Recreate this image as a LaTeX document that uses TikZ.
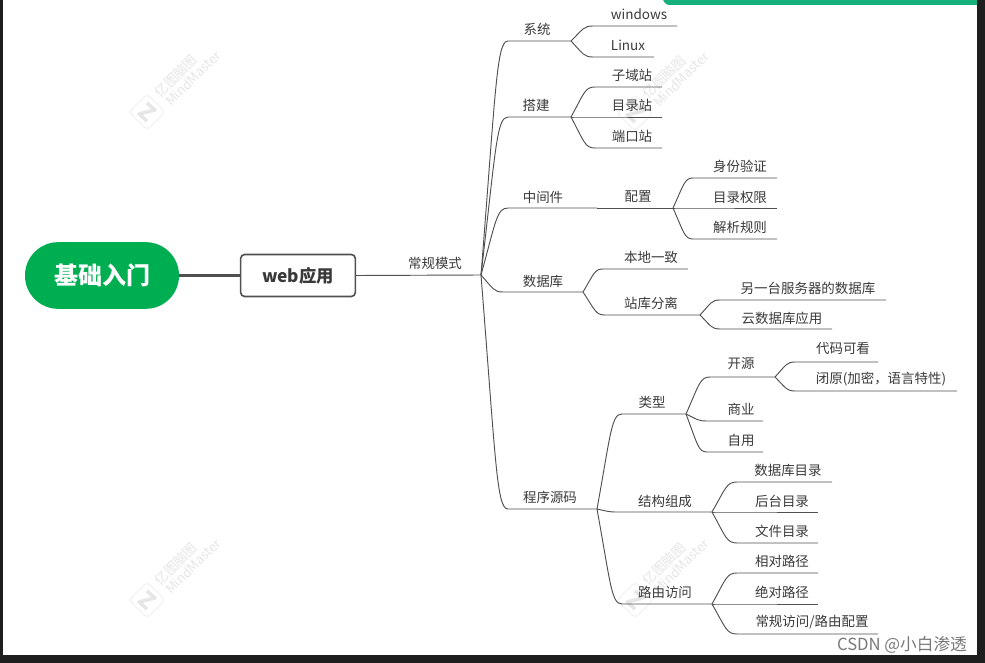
\documentclass[tikz,border=0pt]{standalone}
\usepackage{fontspec}
\setmainfont{Noto Sans CJK SC}
\usetikzlibrary{calc}
\definecolor{bgdark}{HTML}{1E1E1E}
\definecolor{rootgreen}{HTML}{00AE52}
\definecolor{topgreen}{HTML}{16B07A}
\definecolor{linegray}{HTML}{505050}
\definecolor{textgray}{HTML}{3A3A3A}
\definecolor{wmgray}{HTML}{E6E6E6}
\tikzset{
  link/.style={draw=linegray,line width=0.7pt},
  topic/.style={text=textgray,font=\fontsize{10.1pt}{12pt}\selectfont,inner sep=0pt},
  wmtext/.style={text=wmgray,inner sep=0pt,rotate=45},
}
% name, parent, x1, x2, y, text x, text y, text
\newcommand{\tpc}[8]{%
  \coordinate (#1-s) at (#3,#5);
  \coordinate (#1-e) at (#4,#5);
  \node[topic] (#1) at (#6,#7) {#8};
  \draw[link] let \p1=(#2-e), \p2=(#1-s) in
    (\p1) .. controls ({\x1+0.55*(\x2-\x1)},{\y1+0.8*(\y2-\y1)}) and ({\x1+0.58*(\x2-\x1)},\y2) .. (\p2) -- (#1-e);
}
\newcommand{\wmk}[2]{%
  \begin{scope}[shift={(#1,#2)}]
    \draw[wmgray!60,line width=0.7pt,rounded corners=3pt] (-18,0) -- (0,-18) -- (18,0) -- (0,18) -- cycle;
    \draw[wmgray,line width=2.6pt,line join=round] (0,9) -- (-8,2) -- (8,-2) -- (0,-9);
    \node[wmtext,font=\fontsize{10pt}{12pt}\selectfont] at (29,-36) {亿图脑图};
    \node[wmtext,font=\fontsize{9.8pt}{12pt}\selectfont] at (46,-34) {MindMaster};
  \end{scope}
}
\begin{document}
\begin{tikzpicture}[x=0.75pt,y=-0.75pt]
\useasboundingbox (0,0) rectangle (985,663);
\fill[bgdark] (0,0) rectangle (985,663);
\fill[white] (3,0) rectangle (977,655);
\fill[topgreen,rounded corners=5pt] (663,-8) rectangle (995,5);
\fill[bgdark] (977,-10) rectangle (985,10);
\fill[bgdark] (0,-10) rectangle (985,0);
\wmk{147}{112}
\wmk{635}{113}
\wmk{147}{600}
\wmk{635}{600}
% central
\node[fill=rootgreen,text=white,rounded corners=24.9pt,minimum width=115.5pt,minimum height=50pt,inner sep=0pt,font=\fontsize{18pt}{20pt}\selectfont\bfseries] (root) at (102,275.5) {基础入门};
\node[draw=linegray,fill=white,line width=1.2pt,rounded corners=3pt,minimum width=86pt,minimum height=31.5pt,inner sep=0pt,text=textgray,font=\fontsize{13pt}{15pt}\selectfont\bfseries] (web) at (298,275.5) {web应用};
\draw[linegray,line width=2.6pt] (root.east) -- (web.west);
\coordinate (mode-e) at (481,275);
\node[topic] (mode) at (435,263) {常规模式};
\draw[link] (web.east) -- (mode-e);
% level 1
\tpc{sys}{mode}{508}{571}{41}{537}{29}{系统}
\tpc{build}{mode}{508}{571}{117}{536}{105}{搭建}
\tpc{mid}{mode}{508}{597}{208}{543}{197}{中间件}
\tpc{db}{mode}{503}{583}{292}{543}{281}{数据库}
\tpc{src}{mode}{508}{597}{509}{550}{497}{程序源码}
% system
\tpc{win}{sys}{593}{677}{26}{639}{14}{windows}
\tpc{linux}{sys}{593}{654}{57}{628}{45}{Linux}
% build
\tpc{subd}{build}{595}{662}{87}{632}{75}{子域站}
\tpc{dirs}{build}{595}{662}{117}{632}{105}{目录站}
\tpc{port}{build}{595}{662}{148}{632}{136}{端口站}
% middleware
\tpc{conf}{mid}{597}{673}{208}{638}{197}{配置}
\tpc{auth}{conf}{693}{777}{178}{740}{166}{身份验证}
\tpc{perm}{conf}{693}{777}{208}{740}{197}{目录权限}
\tpc{parse}{conf}{693}{777}{239}{740}{227}{解析规则}
% database
\tpc{local}{db}{603}{688}{269}{651}{257}{本地一致}
\tpc{sep}{db}{605}{700}{315}{651}{303}{站库分离}
\tpc{other}{sep}{720}{886}{300}{808}{288}{另一台服务器的数据库}
\tpc{cloud}{sep}{720}{832}{329}{782}{318}{云数据库应用}
% source
\tpc{type}{src}{622}{686}{414}{652}{402}{类型}
\tpc{struct}{src}{617}{712}{512}{665}{501}{结构组成}
\tpc{route}{src}{622}{712}{604}{665}{592}{路由访问}
\tpc{open}{type}{710}{775}{377}{741}{363}{开源}
\tpc{biz}{type}{707}{763}{421}{741}{409}{商业}
\tpc{self}{type}{707}{763}{452}{741}{440}{自用}
\tpc{see}{open}{795}{878}{362}{843}{348}{代码可看}
\tpc{closed}{open}{795}{957}{391}{881}{379}{闭原(加密，语言特性)}
\tpc{dbdir}{struct}{737}{832}{482}{788}{470}{数据库目录}
\tpc{admin}{struct}{737}{818}{512}{782}{501}{后台目录}
\tpc{file}{struct}{737}{818}{543}{782}{531}{文件目录}
\tpc{rel}{route}{737}{818}{573}{782}{561}{相对路径}
\tpc{abs}{route}{737}{818}{604}{782}{592}{绝对路径}
\tpc{norm}{route}{737}{878}{634}{812}{622}{常规访问/路由配置}
\node[text=gray!95!black,inner sep=0pt,font=\fontsize{12.5pt}{14pt}\selectfont] (csdn) at (902,645) {CSDN @小白渗透};
\end{tikzpicture}
\end{document}
